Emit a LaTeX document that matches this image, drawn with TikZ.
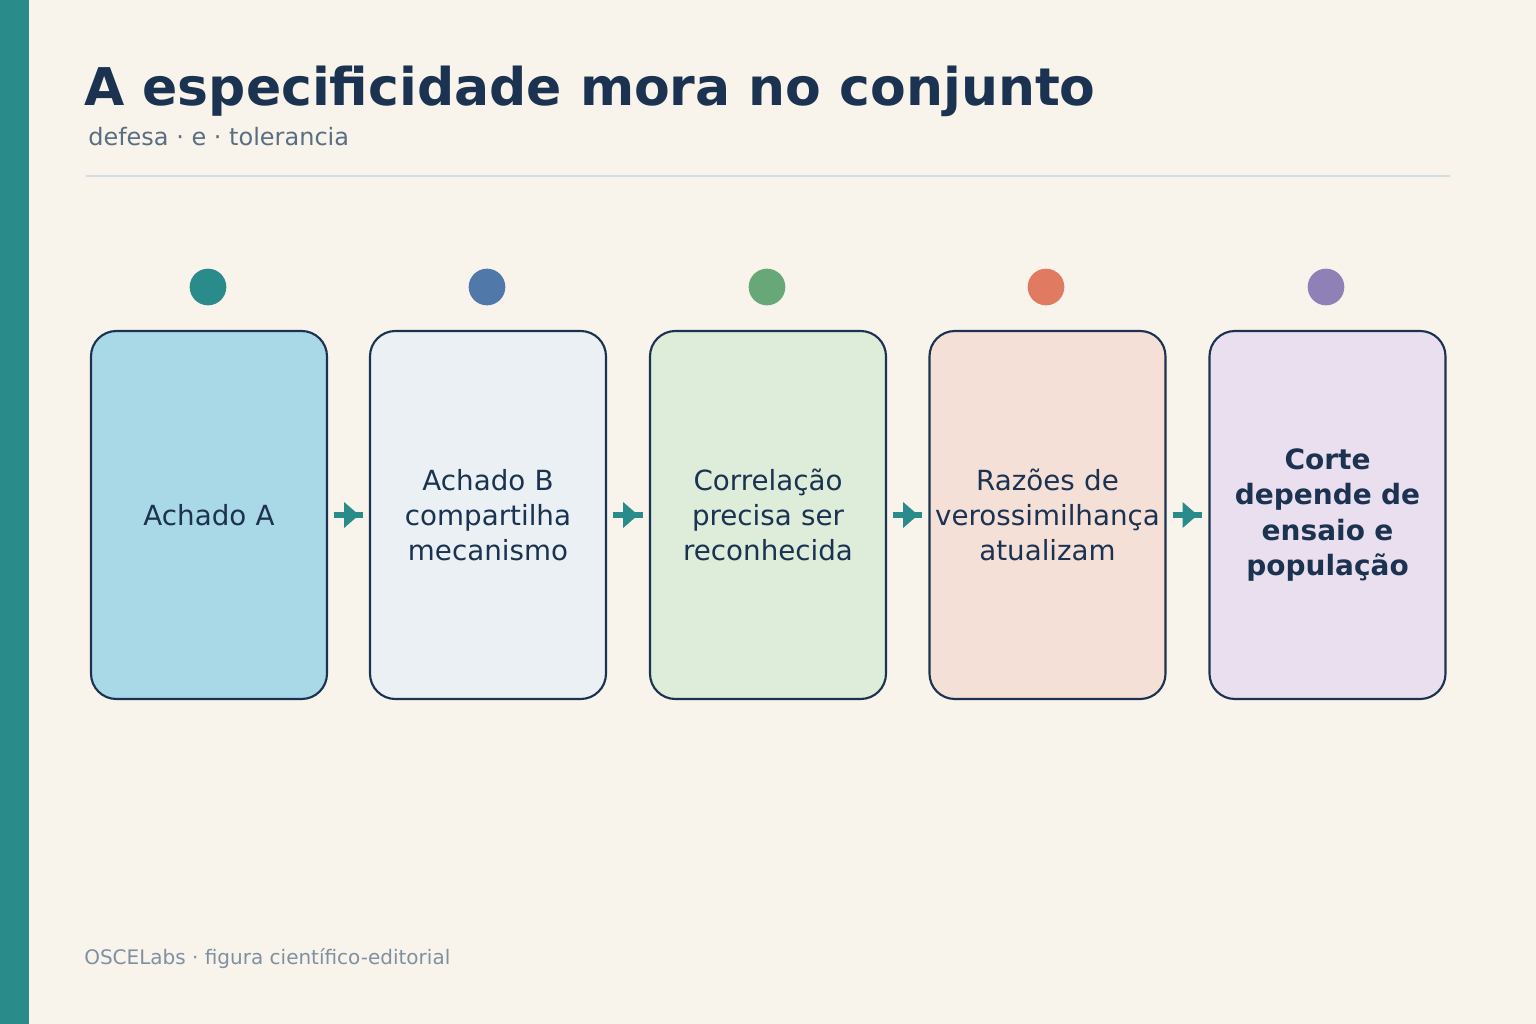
\documentclass[tikz,border=0pt]{standalone}
\usepackage{fontspec}
\setmainfont{DejaVu Sans}
\usetikzlibrary{calc}
\definecolor{bg}{HTML}{F8F4EC}
\definecolor{teal}{HTML}{2A8C8A}
\definecolor{navy}{HTML}{1B3350}
\definecolor{subg}{HTML}{5A6E80}
\definecolor{footg}{HTML}{8090A0}
\definecolor{rule}{HTML}{D0DCE0}
\definecolor{fA}{HTML}{A9D8E6}
\definecolor{fB}{HTML}{EAF0F4}
\definecolor{fC}{HTML}{DDEDDA}
\definecolor{fD}{HTML}{F5E0D8}
\definecolor{fE}{HTML}{EADFEE}
\definecolor{dA}{HTML}{2A8C8A}
\definecolor{dB}{HTML}{5078A8}
\definecolor{dC}{HTML}{68A878}
\definecolor{dD}{HTML}{E07A60}
\definecolor{dE}{HTML}{9080B8}
\begin{document}
\begin{tikzpicture}[x=0.75pt,y=-0.75pt,
  box/.style={draw=navy,line width=1.6pt,rounded corners=19pt,minimum width=177pt,minimum height=276pt,
    align=center,text=navy,font=\fontsize{20.8}{26.5}\selectfont,text width=172pt,inner sep=0pt},
  dot/.style={circle,minimum size=27.5pt,inner sep=0pt},
  shaft/.style={teal,line width=5.2pt,shorten <=4.5pt,shorten >=4.5pt},
  head/.style={fill=teal}]
\fill[bg] (0,0) rectangle (1536,1024);
\useasboundingbox (0,0) rectangle (1536,1024);
\fill[teal] (0,0) rectangle (29,1024);
\node[anchor=base west,inner sep=0pt,text=navy,font=\fontsize{39}{42}\selectfont\bfseries] (title) at (84,106) {A especificidade mora no conjunto};
\node[anchor=base west,inner sep=0pt,text=subg,font=\fontsize{18}{21}\selectfont] (sub) at (88,146) {defesa · e · tolerancia};
\draw[rule,line width=2pt] (86,176) -- (1450,176);
\node[box,fill=fA] (b1) at (209,515) {Achado A};
\node[box,fill=fB] (b2) at (488,515) {Achado B\\compartilha\\mecanismo};
\node[box,fill=fC] (b3) at (768,515) {Correlação\\precisa ser\\reconhecida};
\node[box,fill=fD] (b4) at (1047.5,515) {Razões de\\verossimilhança\\atualizam};
\node[box,fill=fE,font=\fontsize{21}{26.5}\selectfont\bfseries] (b5) at (1327.5,515) {Corte\\depende de\\ensaio e\\população};
\node[dot,fill=dA] (c1) at (208,287) {};
\node[dot,fill=dB] (c2) at (487,287) {};
\node[dot,fill=dC] (c3) at (767,287) {};
\node[dot,fill=dD] (c4) at (1046,287) {};
\node[dot,fill=dE] (c5) at (1326,287) {};
\foreach \a/\b in {b1/b2,b2/b3,b3/b4,b4/b5}{
  \draw[shaft] (\a) -- (\b);
  \fill[head] ($(\a.east)+(16,-13)$) -- ++(15,13) -- ++(-15,13) -- cycle;
}
\node[anchor=base west,inner sep=0pt,text=footg,font=\fontsize{15}{17}\selectfont] (foot) at (84,964) {OSCELabs · figura científico-editorial};
\end{tikzpicture}
\end{document}
